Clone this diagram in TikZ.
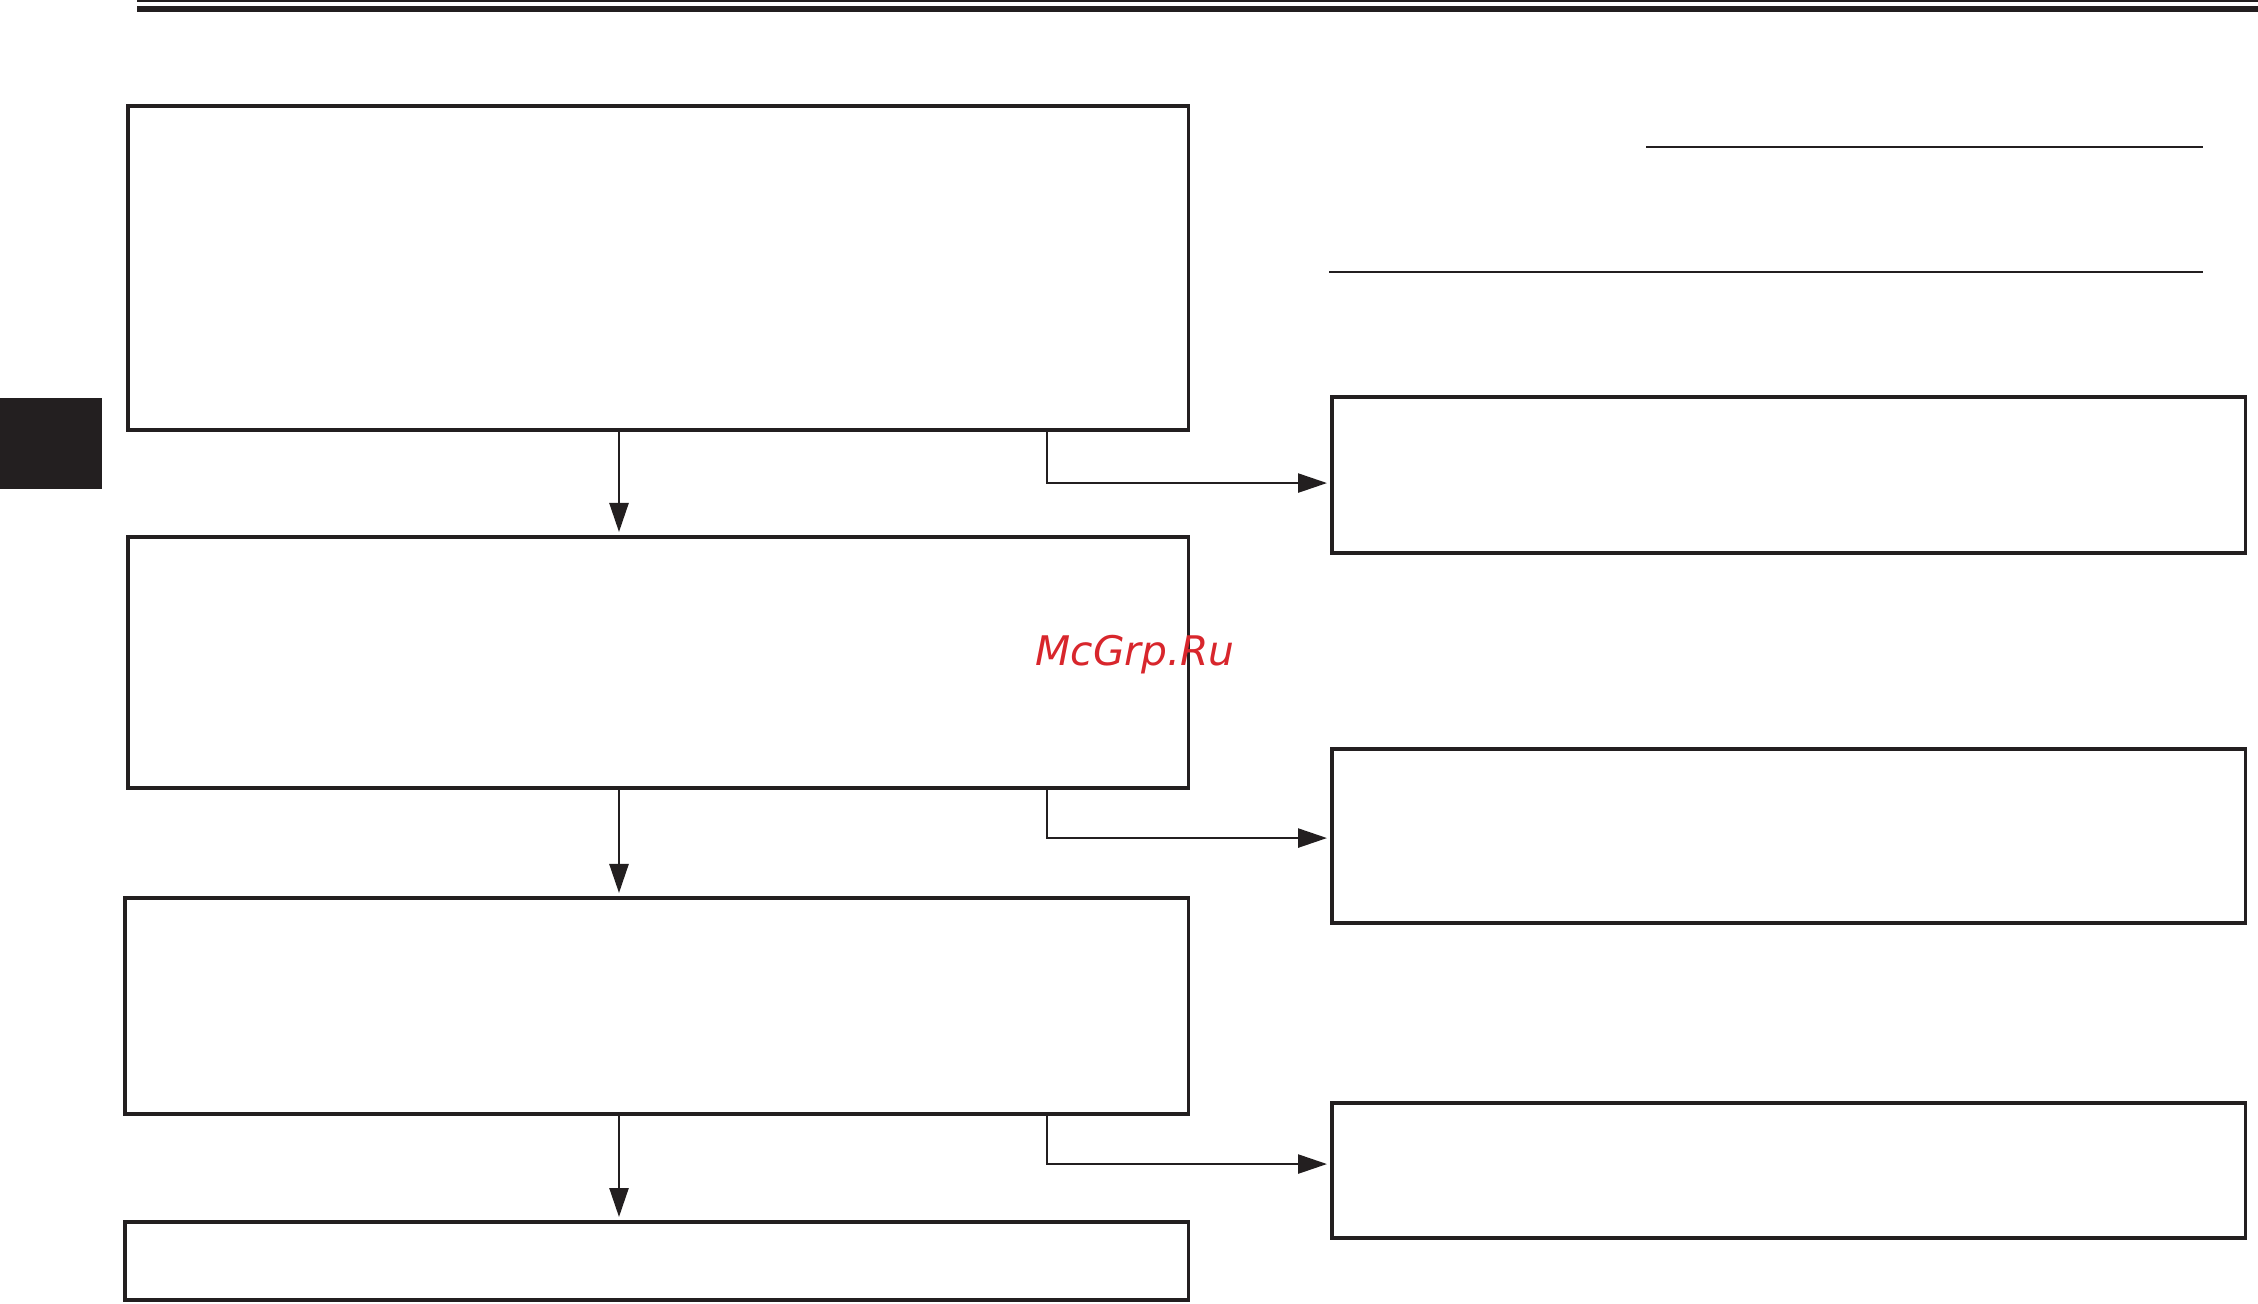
\documentclass[tikz,border=0pt]{standalone}
\usepackage{fontspec}
\usetikzlibrary{arrows.meta,positioning}
\newfontfamily\markfont{DejaVu Sans}
\definecolor{ink}{RGB}{35,31,32}
\definecolor{markred}{RGB}{216,38,44}
\tikzset{
  box/.style={draw=ink, line width=1.05pt, rectangle, inner sep=0pt, outer sep=0pt, anchor=north west},
  flow/.style={draw=ink, line width=0.72pt, -{Triangle[length=0.29cm,width=0.19cm]}, shorten >=0.05cm},
  rule/.style={draw=ink, line width=0.68pt}
}

\begin{document}
\begin{tikzpicture}[x=0.01cm,y=-0.01cm]
\useasboundingbox (0,0) rectangle (2258,1303);
% page header and tab
\draw[ink, line width=0.6pt] (137,1) -- (2258,1);
\draw[ink, line width=1.75pt] (137,9) -- (2258,9);
\fill[ink] (0,398) rectangle (102,489);
\coordinate (down) at (619,0);
\coordinate (side) at (1047,0);
% left column
\node[box, minimum width=10.60cm, minimum height=3.24cm] (b1) at (128,106) {};
\node[box, minimum width=10.60cm, minimum height=2.51cm] (b2) at (128,537) {};
\node[box, minimum width=10.63cm, minimum height=2.16cm] (b3) at (125,898) {};
\node[box, minimum width=10.63cm, minimum height=0.78cm] (b4) at (125,1222) {};
% right column
\node[box, minimum width=9.13cm, minimum height=1.56cm] (r1) at (1332,397) {};
\node[box, minimum width=9.13cm, minimum height=1.74cm] (r2) at (1332,749) {};
\node[box, minimum width=9.13cm, minimum height=1.35cm] (r3) at (1332,1103) {};
% blank rules
\draw[rule] (1646,147) -- (2203,147);
\draw[rule] (1329,272) -- (2203,272);
% connectors
\draw[flow] (b1.south -| down) -- (b2.north -| down);
\draw[flow] (b2.south -| down) -- (b3.north -| down);
\draw[flow] (b3.south -| down) -- (b4.north -| down);
\draw[flow] (b1.south -| side) |- ([yshift=-0.08cm]r1.west);
\draw[flow] (b2.south -| side) |- ([yshift=-0.02cm]r2.west);
\draw[flow] (b3.south -| side) |- ([yshift=0.065cm]r3.west);
\node[anchor=base, text=markred, font=\markfont\itshape\fontsize{11.6}{13}\selectfont] (mark) at (1135,665) {McGrp.Ru};
\end{tikzpicture}
\end{document}
